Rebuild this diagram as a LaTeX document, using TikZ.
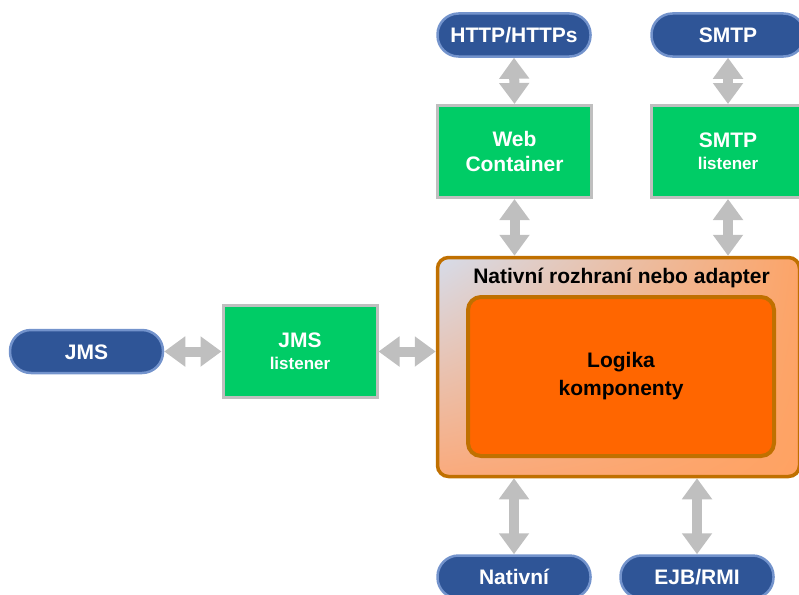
\documentclass[tikz,border=0pt]{standalone}
\usepackage{fontspec}
\setmainfont{Liberation Sans}
\usetikzlibrary{arrows.meta,backgrounds,shadings}
\definecolor{pillfill}{HTML}{2F5597}
\definecolor{pillline}{HTML}{7393CC}
\definecolor{boxgreen}{HTML}{00CC66}
\definecolor{boxgray}{HTML}{BFBFBF}
\definecolor{arrgray}{HTML}{BFBFBF}
\definecolor{brownline}{HTML}{C07000}
\definecolor{innerorange}{HTML}{FF6600}
\definecolor{ulcol}{HTML}{D6DCEA}
\definecolor{urcol}{HTML}{FCA468}
\definecolor{llcol}{HTML}{FAAA7C}
\definecolor{lrcol}{HTML}{FFA262}
\tikzset{
  pill/.style={draw=pillline, line width=2.5pt, fill=pillfill, rounded corners=21pt,
    minimum width=153pt, minimum height=43pt, inner sep=0pt, text=white,
    font=\bfseries\fontsize{21}{25}\selectfont, text height=15pt, text depth=0pt},
  gbox/.style={draw=boxgray, line width=3pt, fill=boxgreen, minimum width=154pt,
    minimum height=92pt, inner sep=0pt, text=white, align=center,
    font=\bfseries\fontsize{21}{25}\selectfont},
  dbl/.style={draw=arrgray, line width=10pt,
    {Triangle[width=29pt,length=21pt]}-{Triangle[width=29pt,length=21pt]}},
  small/.style={font=\bfseries\fontsize{17}{21}\selectfont}
}
\begin{document}
\begin{tikzpicture}[x=1pt,y=-1pt]
\useasboundingbox (0,0) rectangle (799,594);
% top pills and boxes
\node[pill] (http) at (514,35) {HTTP/HTTPs};
\node[pill] (smtp) at (728,35) {SMTP};
\node[gbox] (web) at (514.5,151.5) {Web\\Container};
\node[gbox] (smtpl) at (728,151.5) {SMTP\\[-3pt]{\fontsize{17}{21}\selectfont listener}};
% outer adapter box
\node[draw=brownline, line width=3.5pt, rounded corners=11pt,
      upper left=ulcol, upper right=urcol, lower left=llcol, lower right=lrcol,
      minimum width=362pt, minimum height=219pt, inner sep=0pt] (outer) at (618.5,367) {};
\node[anchor=base, font=\bfseries\fontsize{21}{25}\selectfont] (title) at (621.5,283) {Nativní rozhraní nebo adapter};
\node[draw=brownline, line width=4pt, fill=innerorange, rounded corners=13pt,
      minimum width=306pt, minimum height=159pt, inner sep=0pt, align=center,
      font=\bfseries\fontsize{21}{28}\selectfont] (inner) at (621,376.5) {Logika\\komponenty};
% left
\node[pill] (jms) at (86.5,351.5) {JMS};
\node[gbox] (jmsl) at (300,351.5) {JMS\\[-3pt]{\fontsize{17}{21}\selectfont listener}};
% bottom pills
\node[pill] (nat) at (514,577) {Nativní};
\node[pill] (ejb) at (697,577) {EJB/RMI};
% arrows
\begin{scope}[on background layer]
\draw[dbl] (http.south) -- (web.north);
\draw[dbl] (smtp.south) -- (smtpl.north);
\draw[dbl] (web.south) -- (web.south |- outer.north);
\draw[dbl] (smtpl.south) -- (smtpl.south |- outer.north);
\draw[dbl] (jms.east) -- (jmsl.west);
\draw[dbl] (jmsl.east) -- (jmsl.east -| outer.west);
\draw[dbl] (nat.north |- outer.south) -- (nat.north);
\draw[dbl] (ejb.north |- outer.south) -- (ejb.north);
\end{scope}
\end{tikzpicture}
\end{document}
